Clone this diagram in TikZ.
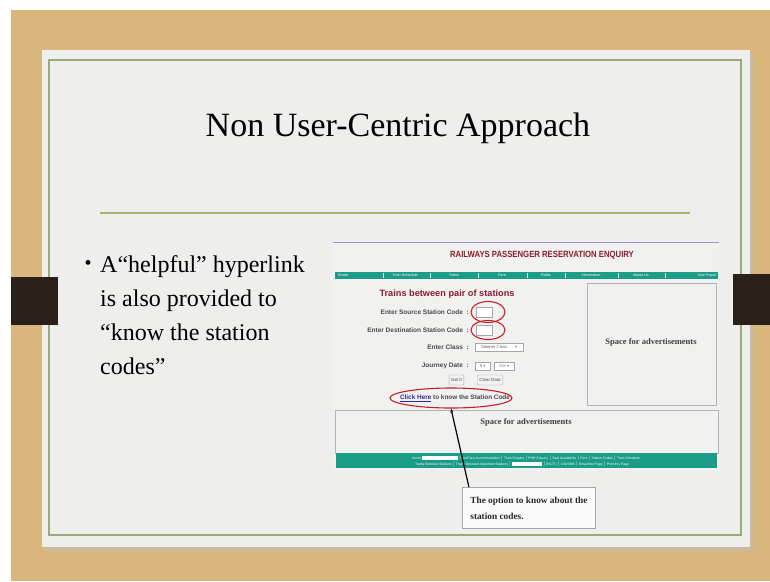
\documentclass[tikz,border=0pt]{standalone}
\usepackage{fontspec}
\setmainfont{Liberation Serif}
\newfontfamily\arial{Liberation Sans}
\newfontfamily\dejavu{DejaVu Sans}
\usetikzlibrary{arrows.meta,shapes.geometric}
\definecolor{wood}{HTML}{D9B67D}
\definecolor{slidebg}{HTML}{EEEEEC}
\definecolor{frameg}{HTML}{97AC78}
\definecolor{titleline}{HTML}{A9B56A}
\definecolor{tab}{HTML}{2A2019}
\definecolor{teal}{HTML}{1B9C88}
\definecolor{maroon}{HTML}{8A1C2C}
\definecolor{redmark}{HTML}{C4202C}
\definecolor{formtxt}{HTML}{4A4A4A}
\definecolor{linkblue}{HTML}{2A2AA0}
\newcommand{\ddarrow}{\textcolor{gray}{{\dejavu ▾}}}
\tikzset{
  lbl/.style={font=\arial\bfseries\fontsize{6.5}{7}\selectfont, text=formtxt, anchor=east, inner sep=0},
  inbox/.style={draw=gray!70, fill=white, line width=0.4, minimum width=16, minimum height=10, inner sep=0},
  ddbox/.style={draw=gray!70, fill=white, line width=0.4, minimum height=8, inner sep=1, font=\arial\fontsize{4.2}{5}\selectfont, text=gray!80!black, anchor=west},
  btn/.style={draw=gray!70, fill=white!90!gray, rounded corners=1, line width=0.4, minimum height=10, inner sep=2, font=\arial\fontsize{4.4}{5}\selectfont, text=formtxt},
  redring/.style={ellipse, draw=redmark, line width=1.1},
  adbox/.style={draw=gray!60, line width=0.6},
  adtxt/.style={font=\bfseries\fontsize{8.5}{10}\selectfont, text=black!75},
  navtxt/.style={font=\arial\fontsize{3.8}{4}\selectfont, text=white, inner sep=0},
  foottxt/.style={font=\arial\fontsize{3.4}{4}\selectfont, text=white!90, inner sep=0},
  bline/.style={anchor=base west, inner sep=0, font=\fontsize{24}{28}\selectfont},
}
\begin{document}
\begin{tikzpicture}[x=1pt,y=-1pt]
\useasboundingbox (0,0) rectangle (770,581);
\fill[white] (0,0) rectangle (770,581);
\fill[wood] (11,10) rectangle (770,581);
% slide with soft shadow
\fill[black!25,opacity=0.5] (44,53) rectangle (753,551);
\fill[slidebg] (42,50) rectangle (750,547);
\draw[frameg, line width=1.3] (49,60) rectangle (741,535);
% binder tabs
\fill[tab] (11,277) rectangle (58,325);
\fill[tab] (733,274) rectangle (770,325);
% title
\node[font=\fontsize{34}{40}\selectfont] (title) at (398,128) {Non User-Centric Approach};
\draw[titleline, line width=1.6] (100,213) -- (690,213);
% bullet
\node[font=\fontsize{20}{24}\selectfont] (dot) at (88,265) {•};
\node[bline] (b1) at (100,272) {A“helpful” hyperlink};
\node[bline] (b2) at (100,306) {is also provided to};
\node[bline] (b3) at (100,340) {“know the station};
\node[bline] (b4) at (100,374) {codes”};
% screenshot background
\fill[slidebg!80!white] (333,241) rectangle (719,470);
\draw[gray!60!blue!60, line width=1] (333,242) -- (719,242);
\node[font=\arial\bfseries\fontsize{9}{10}\selectfont, text=maroon] (banner) at (542,255)
  {\scalebox{0.86}[1]{RAILWAYS PASSENGER RESERVATION ENQUIRY}};
% nav bar
\fill[teal] (335,272) rectangle (718,279);
\foreach \xx in {383,430,478,527,565,618,665} {\draw[white!80!teal, line width=0.3] (\xx,273) -- (\xx,278);}
\node[navtxt] (n1) at (343,275.5) {Home};
\node[navtxt] (n2) at (405,275.5) {Train Schedule};
\node[navtxt] (n3) at (454,275.5) {Trains};
\node[navtxt] (n4) at (502,275.5) {Fare};
\node[navtxt] (n5) at (546,275.5) {Rules};
\node[navtxt] (n6) at (591,275.5) {Information};
\node[navtxt] (n7) at (641,275.5) {About Us};
\node[navtxt, anchor=east] (n8) at (716,275.5) {Vice Popul};
% form
\node[font=\arial\bfseries\fontsize{9.2}{10}\selectfont, text=maroon] (formtitle) at (447,294) {Trains between pair of stations};
\node[lbl] (l1) at (469,312) {Enter Source Station Code \ :};
\node[inbox] (src) at (484,312) {};
\node[redring, minimum width=34, minimum height=21] (r1) at (488,312) {};
\node[lbl] (l2) at (469,330) {Enter Destination Station Code \ :};
\node[inbox] (dst) at (484,330) {};
\node[redring, minimum width=34, minimum height=19] (r2) at (488,330) {};
\node[lbl] (l3) at (469,347.5) {Enter Class \ :};
\node[ddbox, minimum width=48] (cls) at (475,347.5) {Sleeper Class\hspace{8pt}\ddarrow};
\node[lbl] (l4) at (469,366) {Journey Date \ :};
\node[ddbox, minimum width=15] (day) at (475,366) {8 \ddarrow};
\node[ddbox, minimum width=20] (mon) at (494,366) {Oct \ddarrow};
\node[btn] (get) at (456.5,380) {Get It};
\node[btn] (clear) at (490,380) {Clear Data};
\node[font=\arial\bfseries\fontsize{6.4}{7}\selectfont, text=formtxt, inner sep=0] (link) at (455,398)
  {\textcolor{linkblue}{\underline{Click Here}} to know the Station Code};
\node[redring, minimum width=122, minimum height=20] (r3) at (451,398) {};
% advertisement boxes
\draw[adbox] (587,283) rectangle (716,405);
\node[adtxt] (ad1) at (651,342) {Space for advertisements};
\draw[adbox] (335,410) rectangle (718,453);
\node[adtxt] (ad2) at (526,422) {Space for advertisements};
% footer
\fill[teal] (336,453) rectangle (717,468);
\node[foottxt] (f1) at (526,458) {Home \textcolor{white}{\rule[-0.5pt]{36pt}{4pt}} Train/Fare Accommodation $|$ Train Enquiry $|$ PNR Enquiry $|$ Seat Availability $|$ Fare $|$ Station Codes $|$ Train Schedule};
\node[foottxt] (f2) at (522,464.5) {Trains Between Stations $|$ Trains Between Important Stations $|$ \textcolor{white}{\rule[-0.5pt]{30pt}{4pt}} $|$ IRCTC $|$ 139/SMS $|$ Email this Page $|$ Print this Page};
% callout
\node[draw=gray!70, fill=white!97!gray, line width=0.8, anchor=north west, minimum width=133, minimum height=41, inner sep=3.5, align=left, font=\bfseries\fontsize{9.3}{16}\selectfont, text=black!85] (callout) at (462,487)
  {The option to know about the\\station codes.};
\draw[black, line width=1.2, -{Stealth[length=4pt,width=3pt]}] ([xshift=-60pt]callout.north) -- (r3.south);
\end{tikzpicture}
\end{document}
